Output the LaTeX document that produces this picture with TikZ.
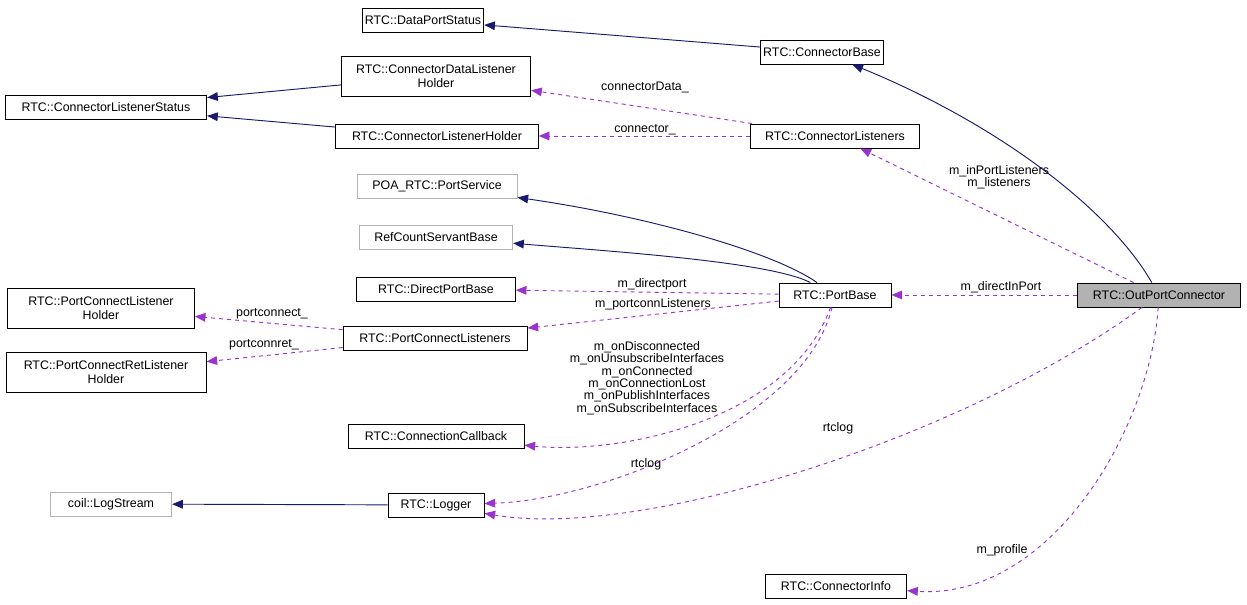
\documentclass[tikz,border=0pt]{standalone}
\usepackage{fontspec}
\setmainfont{Liberation Sans}
\usetikzlibrary{arrows.meta}
\definecolor{inh}{RGB}{25,25,112}
\definecolor{use}{RGB}{154,50,205}
\tikzset{
  cls/.style={draw=black,fill=white,inner sep=2pt,minimum height=18pt,align=center,font=\fontsize{9.3}{10}\selectfont},
  ext/.style={cls,draw=black!30},
  inherit/.style={draw=inh,-{Triangle[length=8pt,width=6.5pt]}},
  uses/.style={draw=use,dashed,-{Triangle[length=8pt,width=6.5pt]}},
  lbl/.style={font=\fontsize{9.3}{9.3}\selectfont,align=center,inner sep=0pt}
}
\begin{document}
\begin{tikzpicture}[x=0.75pt,y=-0.75pt,line width=0.7pt]
	\useasboundingbox (0,0) rectangle (1247,605);
	
	\node[cls,minimum width=90.5pt] (DPS) at (423,20) {RTC::DataPortStatus};
	\node[cls,minimum width=90pt] (CB) at (822,52) {RTC::ConnectorBase};
	\node[cls,minimum width=142pt,minimum height=30pt] (CDLH) at (436,76) {RTC::ConnectorDataListener\\Holder};
	\node[cls,minimum width=151pt] (CLS) at (106,107) {RTC::ConnectorListenerStatus};
	\node[cls,minimum width=152pt] (CLH) at (437,136) {RTC::ConnectorListenerHolder};
	\node[cls,minimum width=127pt] (CL) at (835,136) {RTC::ConnectorListeners};
	\node[ext,minimum width=120pt] (PS) at (437,186) {POA\_RTC::PortService};
	\node[ext,minimum width=115pt] (RCSB) at (436,237) {RefCountServantBase};
	\node[cls,minimum width=119pt] (DPB) at (436,289) {RTC::DirectPortBase};
	\node[cls,minimum width=84pt] (PB) at (835,295) {RTC::PortBase};
	\node[cls,fill=black!30,minimum width=122pt] (OPC) at (1159,295) {RTC::OutPortConnector};
	\node[cls,minimum width=140pt,minimum height=30pt] (PCLH) at (101,308) {RTC::PortConnectListener\\Holder};
	\node[cls,minimum width=138pt] (PCL) at (435,338) {RTC::PortConnectListeners};
	\node[cls,minimum width=150pt,minimum height=30pt] (PCRLH) at (106,372) {RTC::PortConnectRetListener\\Holder};
	\node[cls,minimum width=132pt] (CC) at (436,436) {RTC::ConnectionCallback};
	\node[ext,minimum width=91pt] (LS) at (111,504) {coil::LogStream};
	\node[cls,minimum width=72pt] (LOG) at (436,505) {RTC::Logger};
	\node[cls,minimum width=106pt] (CI) at (836,586) {RTC::ConnectorInfo};
	
	\draw[inherit] (CB) -- (DPS);
	\draw[inherit] (CDLH) -- (CLS);
	\draw[inherit] (CLH) -- (CLS);
	\draw[inherit] (OPC) .. controls (1110,210) and (1000,125) .. (CB);
	\draw[inherit] (PB) .. controls (770,250) and (640,215) .. (PS);
	\draw[inherit] (PB) .. controls (770,262) and (620,252) .. (RCSB);
	\draw[inherit] (LOG) -- (LS);
	
	\draw[uses] (CL) -- (CDLH);
	\draw[uses] (CL) -- (CLH);
	\draw[uses] (OPC) -- (CL);
	\draw[uses] (PB) -- (DPB);
	\draw[uses] (PB) -- (PCL);
	\draw[uses] (PCL) -- (PCLH);
	\draw[uses] (PCL) -- (PCRLH);
	\draw[uses] (PB) .. controls (790,420) and (620,455) .. (CC);
	\draw[uses] (PB) .. controls (805,420) and (600,500) .. (LOG);
	\draw[uses] (OPC) -- (PB);
	\draw[uses] (OPC) .. controls (960,440) and (640,540) .. (LOG);
	\draw[uses] (OPC) .. controls (1150,430) and (1050,600) .. (CI);
	
	\node[lbl] at (645,87) {connectorData\_};
	\node[lbl] at (645,130) {connector\_};
	\node[lbl] at (999,177) {m\_inPortListeners\\m\_listeners};
	\node[lbl] at (652,284) {m\_directport};
	\node[lbl] at (653,304) {m\_portconnListeners};
	\node[lbl] at (272,314) {portconnect\_};
	\node[lbl] at (264,345) {portconnret\_};
	\node[lbl] at (647,378) {m\_onDisconnected\\m\_onUnsubscribeInterfaces\\m\_onConnected\\m\_onConnectionLost\\m\_onPublishInterfaces\\m\_onSubscribeInterfaces};
	\node[lbl] at (646,464) {rtclog};
	\node[lbl] at (1001,287) {m\_directInPort};
	\node[lbl] at (838,428) {rtclog};
	\node[lbl] at (1002,550) {m\_profile};
	
\end{tikzpicture}
\end{document}
